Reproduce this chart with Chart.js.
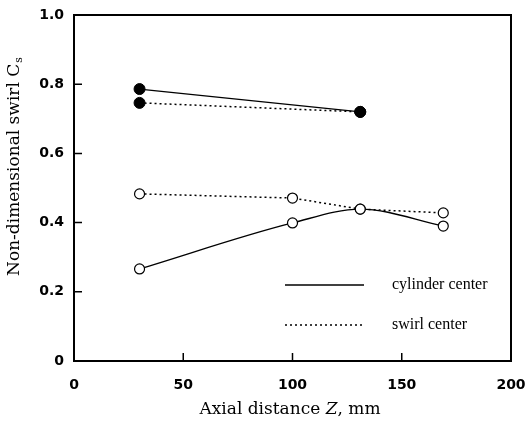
<!DOCTYPE html>
<html><head><meta charset="utf-8">
<script src="https://cdn.jsdelivr.net/npm/chart.js@4"></script>
<style>html,body{margin:0;padding:0;background:#fff}#wrap{width:529px;height:433px}</style>
</head><body><div id="wrap"><canvas id="c" width="529" height="433"></canvas></div>
<script>
// ---- data ----
const xTicks = [0, 50, 100, 150, 200];
const yTicks = [0, 0.2, 0.4, 0.6, 0.8, 1.0];
const cylFilledZ = [30, 131];
const cylFilledCs = [0.786, 0.72];
const swFilledZ = [30, 131];
const swFilledCs = [0.746, 0.72];
const swOpenZ = [30, 100, 131, 169];
const swOpenCs = [0.483, 0.471, 0.439, 0.428];
const cylOpenZ = [30, 100, 131, 169];
const cylOpenCs = [0.266, 0.399, 0.439, 0.39];
const legendLabels = ['cylinder center', 'swirl center'];
const xTitleParts = ['Axial distance ', 'Z', ', mm'];
const yTitleMain = 'Non-dimensional swirl C';
const yTitleSub = 's';

const pts = (xs, ys) => xs.map((x, i) => ({x: x, y: ys[i]}));
const solid = [];
const dotted = [2, 3];

const frame = {
  id: 'frame',
  beforeDatasetsDraw(chart) {
    const {ctx, chartArea: a, scales} = chart;
    ctx.save();
    ctx.strokeStyle = '#000';
    ctx.lineWidth = 2;
    ctx.strokeRect(a.left, a.top, a.right - a.left, a.bottom - a.top);
    ctx.lineWidth = 1.5;
    ctx.beginPath();
    xTicks.forEach(v => { const p = scales.x.getPixelForValue(v); ctx.moveTo(p, a.bottom); ctx.lineTo(p, a.bottom - 8); });
    yTicks.forEach(v => { const p = scales.y.getPixelForValue(v); ctx.moveTo(a.left, p); ctx.lineTo(a.left + 8, p); });
    ctx.stroke();
    ctx.restore();
  },
  afterDraw(chart) {
    const ctx = chart.ctx;
    ctx.save();
    ctx.fillStyle = '#000';
    // y title
    ctx.translate(15, 167);
    ctx.rotate(-Math.PI / 2);
    ctx.textBaseline = 'middle';
    ctx.textAlign = 'left';
    ctx.font = '17px "DejaVu Serif"';
    const w1 = ctx.measureText(yTitleMain).width;
    ctx.font = '11px "DejaVu Serif"';
    const w2 = ctx.measureText(yTitleSub).width;
    const s = -(w1 + w2) / 2;
    ctx.font = '17px "DejaVu Serif"';
    ctx.fillText(yTitleMain, s, 0);
    ctx.font = '11px "DejaVu Serif"';
    ctx.fillText(yTitleSub, s + w1 + 1, 4);
    ctx.restore();
    // x title
    ctx.save();
    ctx.fillStyle = '#000';
    ctx.textBaseline = 'middle';
    ctx.textAlign = 'left';
    const fonts = ['17px "DejaVu Serif"', 'italic 17px "DejaVu Serif"', '17px "DejaVu Serif"'];
    let tot = 0; const ws = [];
    xTitleParts.forEach((t, i) => { ctx.font = fonts[i]; const w = ctx.measureText(t).width; ws.push(w); tot += w; });
    let x = 290 - tot / 2;
    xTitleParts.forEach((t, i) => { ctx.font = fonts[i]; ctx.fillText(t, x, 410); x += ws[i]; });
    // legend
    ctx.strokeStyle = '#000';
    ctx.lineWidth = 1.3;
    ctx.beginPath(); ctx.setLineDash(solid); ctx.moveTo(285, 285); ctx.lineTo(364, 285); ctx.stroke();
    ctx.beginPath(); ctx.setLineDash(dotted); ctx.moveTo(285, 325); ctx.lineTo(364, 325); ctx.stroke();
    ctx.setLineDash([]);
    ctx.font = '16px "Liberation Serif"';
    ctx.fillText(legendLabels[0], 392, 285);
    ctx.fillText(legendLabels[1], 392, 325);
    ctx.restore();
  }
};

const filledPt = {pointRadius: 5.5, pointBackgroundColor: '#000', pointBorderColor: '#000', pointBorderWidth: 1};
const openPt = {pointRadius: 5, pointBackgroundColor: '#fff', pointBorderColor: '#000', pointBorderWidth: 1.2};

new Chart(document.getElementById('c'), {
  type: 'line',
  data: {
    datasets: [
      Object.assign({label: legendLabels[0], data: pts(cylOpenZ, cylOpenCs), borderColor: '#000', borderWidth: 1.3, borderDash: solid, cubicInterpolationMode: 'monotone', fill: false}, openPt),
      Object.assign({label: legendLabels[1], data: pts(swOpenZ, swOpenCs), borderColor: '#000', borderWidth: 1.5, borderDash: dotted, tension: 0, fill: false}, openPt),
      Object.assign({label: legendLabels[0], data: pts(cylFilledZ, cylFilledCs), borderColor: '#000', borderWidth: 1.3, borderDash: solid, tension: 0, fill: false}, filledPt),
      Object.assign({label: legendLabels[1], data: pts(swFilledZ, swFilledCs), borderColor: '#000', borderWidth: 1.5, borderDash: dotted, tension: 0, fill: false}, filledPt)
    ]
  },
  options: {
    responsive: false,
    animation: false,
    devicePixelRatio: 1,
    layout: {padding: {top: 15, right: 18, left: 0, bottom: 0}},
    plugins: {legend: {display: false}, tooltip: {enabled: false}},
    scales: {
      x: {
        type: 'linear', min: 0, max: 200,
        afterBuildTicks: s => { s.ticks = xTicks.map(v => ({value: v})); },
        afterFit: s => { s.height = 72; s.paddingLeft = 0; s.paddingRight = 0; },
        grid: {display: false, drawTicks: false},
        border: {display: false},
        ticks: {padding: 16, color: '#000', font: {family: 'DejaVu Sans', size: 14, weight: 'bold'}, maxRotation: 0}
      },
      y: {
        type: 'linear', min: 0, max: 1,
        afterBuildTicks: s => { s.ticks = yTicks.map(v => ({value: v})); },
        afterFit: s => { s.width = 74; s.paddingTop = 0; s.paddingBottom = 0; },
        grid: {display: false, drawTicks: false},
        border: {display: false},
        ticks: {padding: 10, color: '#000', font: {family: 'DejaVu Sans', size: 14, weight: 'bold'},
          callback: v => v === 0 ? '0' : v.toFixed(1)}
      }
    }
  },
  plugins: [frame]
});
</script>
</body></html>
